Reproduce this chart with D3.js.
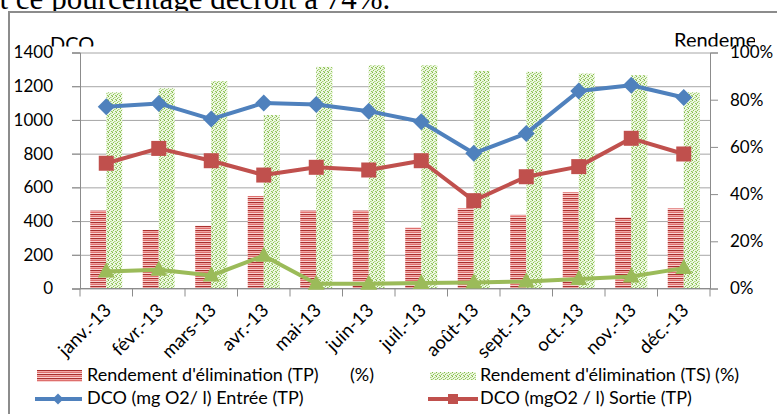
<!DOCTYPE html>
<html>
<head>
<meta charset="utf-8">
<script src="https://cdn.jsdelivr.net/npm/d3@7"></script>
<style>
  html, body { margin: 0; padding: 0; background: #fff; overflow: hidden; }
  svg { display: block; font-family: Lato, "Open Sans", sans-serif; }
</style>
</head>
<body>
<svg id="chart" width="777" height="414"></svg>
<script>
// Données mensuelles 2013
const mois = ["janv.-13", "févr.-13", "mars-13", "avr.-13", "mai-13", "juin-13",
              "juil.-13", "août-13", "sept.-13", "oct.-13", "nov.-13", "déc.-13"];
const dcoEntree = [1078, 1098, 1005, 1101, 1092, 1052, 989, 802, 920, 1171, 1206, 1133];
const dcoSortie = [743, 831, 758, 673, 719, 703, 758, 521, 663, 723, 891, 798];
const courbeVerte = [101, 111, 77, 194, 28, 28, 32, 36, 42, 57, 71, 121];
const rendementTP = [33.0, 24.8, 26.6, 39.2, 33.0, 33.0, 25.8, 34.0, 31.2, 40.8, 30.2, 34.0];
const rendementTS = [83.1, 84.8, 87.9, 73.5, 93.9, 94.6, 94.6, 92.2, 91.8, 91.1, 90.4, 83.1];
const ticksDCO = [0, 200, 400, 600, 800, 1000, 1200, 1400];
const ticksPct = [0, 20, 40, 60, 80, 100];
const legendeLabels = ["Rendement d'élimination (TP)", "(%)",
                       "Rendement d'élimination (TS) (%)",
                       "DCO (mg O2/ l) Entrée (TP)", "DCO (mgO2 / l) Sortie (TP)"];

const BLEU = "#4f81bd", ROUGE = "#c0504d", VERT = "#9bbb59";
const GRID = "#a6a6a6", AXE = "#8c8c8c";

const svg = d3.select("#chart");
const defs = svg.append("defs");

// Motif rayé horizontal (TP)
const pTP = defs.append("pattern").attr("id", "motifTP")
  .attr("patternUnits", "userSpaceOnUse").attr("width", 4).attr("height", 4);
["#de6f6d", "#f9d3d2", "#a8302e", "#f2a6a4"].forEach((c, i) =>
  pTP.append("rect").attr("x", 0).attr("y", i).attr("width", 4).attr("height", 1).attr("fill", c));

// Motif pointillé vert (TS)
const pTS = defs.append("pattern").attr("id", "motifTS")
  .attr("patternUnits", "userSpaceOnUse").attr("width", 4).attr("height", 4);
pTS.append("rect").attr("width", 4).attr("height", 4).attr("fill", "#eef7e3");
[[0, 0, "#7fb843"], [2, 1, "#a9d47a"], [1, 2, "#8cc152"], [3, 3, "#93c75a"], [3, 1, "#c6e4a6"], [0, 3, "#b8dc92"]]
  .forEach(([px, py, c]) => pTS.append("rect").attr("x", px).attr("y", py)
    .attr("width", 1).attr("height", 1).attr("fill", c));

// Découpe des titres d'axes
defs.append("clipPath").attr("id", "clipTitres")
  .append("rect").attr("x", 0).attr("y", 0).attr("width", 755).attr("height", 46.5);

// Texte du document au-dessus du graphique
svg.append("text")
  .attr("x", -0.5).attr("y", 9)
  .attr("font-family", "'Liberation Serif', 'DejaVu Serif', serif")
  .attr("font-size", 31).attr("fill", "#000")
  .text("t ce pourcentage décroît à 74%.");

// Cadre du graphique
svg.append("rect")
  .attr("x", 9).attr("y", 12).attr("width", 800).attr("height", 420)
  .attr("fill", "#fff").attr("stroke", AXE).attr("stroke-width", 2);

const plotLeft = 80, plotRight = 710, plotTop = 52.5, plotBottom = 288.5;

const x = d3.scaleBand().domain(mois).range([plotLeft, plotRight])
  .paddingInner(0.39).paddingOuter(0.195);
const bw = x.bandwidth();
const yL = d3.scaleLinear().domain([0, 1400]).range([plotBottom, plotTop]);
const yR = d3.scaleLinear().domain([0, 100]).range([plotBottom, plotTop]);

// Titres des axes (partiellement masqués)
const titres = svg.append("g").attr("clip-path", "url(#clipTitres)")
  .attr("font-size", 20).attr("fill", "#000");
titres.append("text").attr("x", 50).attr("y", 51).text("DCO");
titres.append("text").attr("x", 674).attr("y", 47).text("Rendement");

// Quadrillage horizontal
svg.append("g").attr("transform", `translate(${plotRight},0)`)
  .call(d3.axisLeft(yL).tickValues(ticksDCO).tickSize(plotRight - 72).tickFormat(""))
  .call(g => g.select(".domain").remove())
  .call(g => g.selectAll("line").attr("stroke", GRID).attr("stroke-width", 1));

// Barres
const gBar = svg.append("g");
gBar.selectAll(".tp").data(mois).join("rect")
  .attr("x", d => x(d)).attr("width", bw / 2)
  .attr("y", (d, i) => yR(rendementTP[i]))
  .attr("height", (d, i) => yR(0) - yR(rendementTP[i]))
  .attr("fill", "url(#motifTP)");
gBar.selectAll(".ts").data(mois).join("rect")
  .attr("x", d => x(d) + bw / 2).attr("width", bw / 2)
  .attr("y", (d, i) => yR(rendementTS[i]))
  .attr("height", (d, i) => yR(0) - yR(rendementTS[i]))
  .attr("fill", "url(#motifTS)");

// Axe gauche
svg.append("g").attr("transform", `translate(${plotLeft},0)`)
  .call(d3.axisLeft(yL).tickValues(ticksDCO).tickSize(8).tickPadding(19)
    .tickFormat(d3.format("d")))
  .call(g => g.select(".domain").attr("stroke", AXE))
  .call(g => g.selectAll("line").attr("stroke", AXE))
  .call(g => g.selectAll("text").attr("font-size", 17).attr("fill", "#000")
    .attr("font-family", "Lato, sans-serif"));

// Axe droit
svg.append("g").attr("transform", `translate(${plotRight},0)`)
  .call(d3.axisRight(yR).tickValues(ticksPct).tickSize(8).tickPadding(12)
    .tickFormat(d => d + "%"))
  .call(g => g.select(".domain").attr("stroke", AXE))
  .call(g => g.selectAll("line").attr("stroke", AXE))
  .call(g => g.selectAll("text").attr("font-size", 17).attr("fill", "#000")
    .attr("font-family", "Lato, sans-serif"));

// Axe des catégories
const gX = svg.append("g");
gX.append("line").attr("x1", plotLeft).attr("x2", plotRight)
  .attr("y1", plotBottom).attr("y2", plotBottom).attr("stroke", AXE);
gX.selectAll(".tk").data(d3.range(mois.length + 1)).join("line")
  .attr("x1", i => plotLeft + i * x.step()).attr("x2", i => plotLeft + i * x.step())
  .attr("y1", plotBottom).attr("y2", plotBottom + 8).attr("stroke", AXE);
gX.selectAll(".lb").data(mois).join("text")
  .attr("transform", d => `translate(${x(d) + bw / 2 + 6},${plotBottom + 23}) rotate(-45)`)
  .attr("text-anchor", "end").attr("font-size", 18.5).attr("fill", "#000")
  .text(d => d);

// Courbes
const cx = d => x(d) + bw / 2;
function courbe(vals, couleur, marqueur) {
  const pts = mois.map((m, i) => [cx(m), yL(vals[i])]);
  const g = svg.append("g");
  g.append("path").attr("d", d3.line()(pts))
    .attr("fill", "none").attr("stroke", couleur).attr("stroke-width", 4)
    .attr("stroke-linejoin", "round");
  g.selectAll("path.m").data(pts).join("path").attr("class", "m")
    .attr("transform", p => `translate(${p[0]},${p[1]})`)
    .attr("d", marqueur).attr("fill", couleur);
}
const losange = r => `M0,${-r}L${r},0L0,${r}L${-r},0Z`;
const carre = s => `M${-s / 2},${-s / 2}h${s}v${s}h${-s}Z`;
const triangle = (w, h) => `M0,${-h * 0.6}L${w / 2},${h * 0.4}L${-w / 2},${h * 0.4}Z`;

courbe(courbeVerte, VERT, triangle(17, 15));
courbe(dcoSortie, ROUGE, carre(15));
courbe(dcoEntree, BLEU, losange(8.5));

// Légende
const leg = svg.append("g").attr("font-size", 18).attr("fill", "#000");
leg.append("rect").attr("x", 37).attr("y", 370).attr("width", 45).attr("height", 12)
  .attr("fill", "url(#motifTP)");
leg.append("text").attr("x", 87).attr("y", 376).attr("dominant-baseline", "middle")
  .text(legendeLabels[0])
  .append("tspan").attr("x", 350).text(legendeLabels[1]);
leg.append("rect").attr("x", 430).attr("y", 372).attr("width", 46).attr("height", 8)
  .attr("fill", "url(#motifTS)");
leg.append("text").attr("x", 480).attr("y", 376).attr("dominant-baseline", "middle")
  .text(legendeLabels[2]);

leg.append("line").attr("x1", 35).attr("x2", 82).attr("y1", 399).attr("y2", 399)
  .attr("stroke", BLEU).attr("stroke-width", 4);
leg.append("path").attr("transform", "translate(58,399)").attr("d", losange(5.5)).attr("fill", BLEU);
leg.append("text").attr("x", 87).attr("y", 399).attr("dominant-baseline", "middle")
  .text(legendeLabels[3]);

leg.append("line").attr("x1", 428).attr("x2", 478).attr("y1", 399).attr("y2", 399)
  .attr("stroke", ROUGE).attr("stroke-width", 4);
leg.append("path").attr("transform", "translate(453,399)").attr("d", carre(10)).attr("fill", ROUGE);
leg.append("text").attr("x", 480).attr("y", 399).attr("dominant-baseline", "middle")
  .text(legendeLabels[4]);
</script>
</body>
</html>
